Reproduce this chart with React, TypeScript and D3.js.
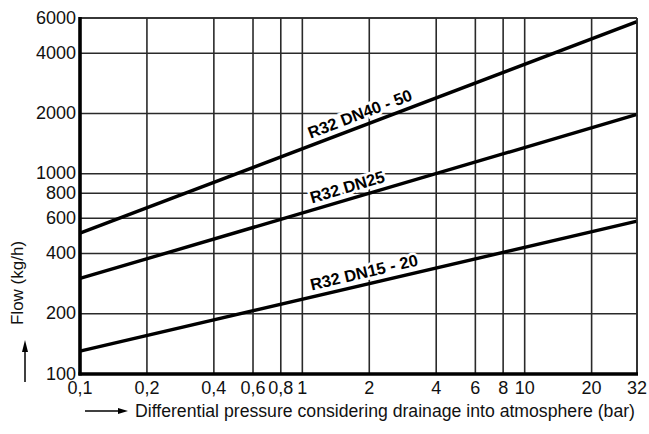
import React from "react";
import * as d3 from "d3";

const xTicks = [0.1, 0.2, 0.4, 0.6, 0.8, 1, 2, 4, 6, 8, 10, 20, 32];
const xTickLabels = ["0,1", "0,2", "0,4", "0,6", "0,8", "1", "2", "4", "6", "8", "10", "20", "32"];
const yTicks = [100, 200, 400, 600, 800, 1000, 2000, 4000, 6000];
const yTickLabels = ["100", "200", "400", "600", "800", "1000", "2000", "4000", "6000"];

const pressure = [0.1, 32];
const flowDN4050 = [505, 5750];
const flowDN25 = [300, 1980];
const flowDN1520 = [130, 580];
const seriesNames = ["R32 DN40 - 50", "R32 DN25", "R32 DN15 - 20"];
const labelAt = [1.9, 1.65, 1.95];

const W = 649;
const H = 434;
const left = 80;
const right = 637;
const top = 18;
const bottom = 374;
const font = "'Liberation Sans', Arial, sans-serif";

export default function App() {
  const x = d3.scaleLog().domain([0.1, 32]).range([left, right]);
  const y = d3.scaleLog().domain([100, 6000]).range([bottom, top]);
  const series = [flowDN4050, flowDN25, flowDN1520];
  const line = d3
    .line<[number, number]>()
    .x((d) => x(d[0]))
    .y((d) => y(d[1]));

  return (
    <svg width={W} height={H} style={{ position: "absolute", left: 0, top: 0, background: "#fff" }}>
      <rect width={W} height={H} fill="#fff" />
      {/* grid */}
      {xTicks.map((t) => (
        <line key={"gx" + t} x1={x(t)} x2={x(t)} y1={top} y2={bottom} stroke="#2a2a2a" strokeWidth={1.6} />
      ))}
      {yTicks.map((t) => (
        <line key={"gy" + t} x1={left} x2={right} y1={y(t)} y2={y(t)} stroke="#2a2a2a" strokeWidth={1.6} />
      ))}
      {/* series lines */}
      {series.map((s, i) => (
        <path
          key={"s" + i}
          d={line(pressure.map((p, j) => [p, s[j]] as [number, number])) || ""}
          fill="none"
          stroke="#000"
          strokeWidth={3.4}
        />
      ))}
      {/* labels */}
      {series.map((s, i) => {
        const x1 = x(pressure[0]);
        const x2 = x(pressure[1]);
        const y1 = y(s[0]);
        const y2 = y(s[1]);
        const ang = Math.atan2(y2 - y1, x2 - x1);
        const lx = x(labelAt[i]);
        const ly = y1 + ((lx - x1) / (x2 - x1)) * (y2 - y1);
        const off = 6.5;
        const px = lx + Math.sin(ang) * off;
        const py = ly - Math.cos(ang) * off;
        return (
          <text
            key={"l" + i}
            transform={`translate(${px},${py}) rotate(${(ang * 180) / Math.PI})`}
            textAnchor="middle"
            fontFamily={font}
            fontWeight="bold"
            fontSize={16.5}
            fill="#000"
            stroke="#fff"
            strokeWidth={5}
            paintOrder="stroke"
          >
            {seriesNames[i]}
          </text>
        );
      })}
      {/* frame */}
      <line x1={left} x2={right} y1={top} y2={top} stroke="#2a2a2a" strokeWidth={1.6} />
      <line x1={right} x2={right} y1={top} y2={bottom} stroke="#2a2a2a" strokeWidth={1.6} />
      <line x1={left} x2={left} y1={top - 1} y2={bottom + 1.5} stroke="#000" strokeWidth={3.6} />
      <line x1={left - 1.5} x2={right + 1} y1={bottom} y2={bottom} stroke="#000" strokeWidth={3.6} />
      {/* tick labels */}
      {yTicks.map((t, i) => (
        <text key={"yl" + t} x={left - 4} y={y(t) + 5.5} textAnchor="end" fontFamily={font} fontSize={18} fill="#111">
          {yTickLabels[i]}
        </text>
      ))}
      {xTicks.map((t, i) => (
        <text key={"xl" + t} x={x(t)} y={bottom + 20} textAnchor="middle" fontFamily={font} fontSize={18} fill="#111">
          {xTickLabels[i]}
        </text>
      ))}
      {/* axis titles */}
      <line x1={85} x2={120} y1={411} y2={411} stroke="#000" strokeWidth={1.5} />
      <path d="M118,408 L128,411 L118,414 Z" fill="#000" />
      <text x={135} y={417} fontFamily={font} fontSize={17.5} fill="#111" textLength={500} lengthAdjust="spacingAndGlyphs">
        Differential pressure considering drainage into atmosphere (bar)
      </text>
      <line x1={25} x2={25} y1={382} y2={350} stroke="#000" strokeWidth={1.5} />
      <path d="M22,352 L25,340 L28,352 Z" fill="#000" />
      <text
        transform="translate(23,283) rotate(-90)"
        textAnchor="middle"
        fontFamily={font}
        fontSize={17}
        fill="#111"
      >
        Flow (kg/h)
      </text>
    </svg>
  );
}
